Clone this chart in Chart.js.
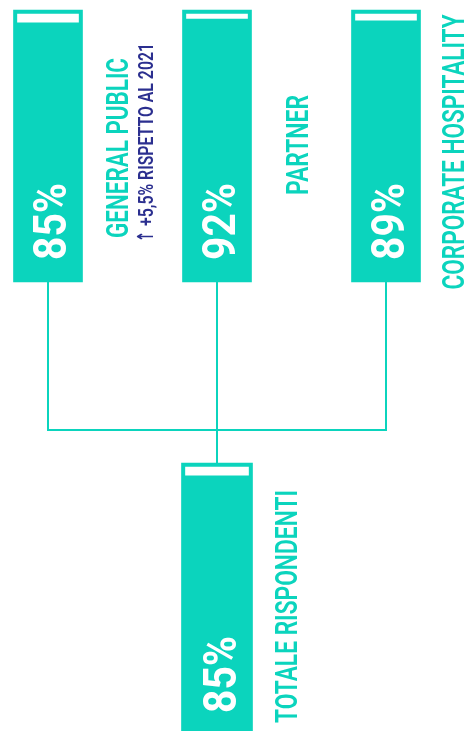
<!DOCTYPE html>
<html lang="it">
<head>
<meta charset="utf-8">
<script src="https://cdn.jsdelivr.net/npm/chart.js@4"></script>
<style>
  html, body { margin: 0; padding: 0; background: #fff; overflow: hidden; width: 467px; height: 731px; }
  #graficoSegmenti { position: absolute; left: 0; top: 0; }
  #graficoTotale { position: absolute; left: 0; top: 450px; }
</style>
</head>
<body>
<canvas id="graficoSegmenti" width="467" height="450"></canvas>
<canvas id="graficoTotale" width="467" height="285"></canvas>
<script>
// Segmenti di pubblico e percentuale di soddisfazione
const categorie = ['GENERAL PUBLIC', 'PARTNER', 'CORPORATE HOSPITALITY'];
const percentuali = [85, 92, 89];

// Totale dei rispondenti
const categoriaTotale = ['TOTALE RISPONDENTI'];
const percentualeTotale = [85];

// Nota sul General Public
const variazioneGP = '+5,5%';
const annoConfronto = 2021;

const TEAL = '#0BD4BD';
const BLU = '#2B2F8F';

// Testo ruotato di 90° (si legge dal basso verso l'alto), compresso per stare in "lunghezza" px
function testoRuotato(ctx, testo, xBase, yInizio, font, lunghezza, colore) {
  ctx.save();
  ctx.font = font;
  ctx.fillStyle = colore;
  ctx.textAlign = 'left';
  ctx.textBaseline = 'alphabetic';
  const w = ctx.measureText(testo).width;
  ctx.translate(xBase, yInizio);
  ctx.rotate(-Math.PI / 2);
  ctx.scale(lunghezza / w, 1);
  ctx.fillText(testo, 0, 0);
  ctx.restore();
}

// Due dataset sovrapposti: la striscia bianca (quota mancante) sopra il contenitore teal (100%)
function datasetsBarre(valori, spessore) {
  return [
    {
      data: valori.map(v => [98.5 - (100 - v) * 0.2, 98.5]),
      backgroundColor: '#ffffff',
      barThickness: spessore - 8,
      clip: false
    },
    {
      data: valori.map(() => [0, 100]),
      backgroundColor: TEAL,
      barThickness: spessore,
      clip: false
    }
  ];
}

function opzioniBase(padding, offsetX) {
  return {
    responsive: false,
    animation: false,
    devicePixelRatio: 1,
    layout: { padding: padding },
    datasets: { bar: { grouped: false } },
    plugins: { legend: { display: false }, tooltip: { enabled: false } },
    scales: {
      x: { type: 'category', offset: offsetX, display: false },
      y: { min: 0, max: 100, display: false }
    }
  };
}

// Grafico in alto: i tre segmenti + linee di collegamento
const pluginSegmenti = {
  id: 'etichetteSegmenti',
  afterDatasetsDraw(chart) {
    const ctx = chart.ctx;
    const barre = chart.getDatasetMeta(1).data;

    ctx.save();
    ctx.strokeStyle = TEAL;
    ctx.lineWidth = 2;
    const yNodo = 430;
    ctx.beginPath();
    ctx.moveTo(barre[0].x, barre[0].base);
    ctx.lineTo(barre[0].x, yNodo);
    ctx.lineTo(barre[2].x, yNodo);
    ctx.lineTo(barre[2].x, barre[2].base);
    ctx.moveTo(barre[1].x, barre[1].base);
    ctx.lineTo(barre[1].x, chart.height);
    ctx.stroke();
    ctx.restore();

    const lunghezze = [180, 100, 275];
    const distanze = [45, 56, 43];
    const centri = [148, 145, 152];
    barre.forEach((b, i) => {
      testoRuotato(ctx, percentuali[i] + '%', b.x + 18, b.base - 22, '700 46px Roboto', 77, '#fff');
      const inizio = centri[i] + lunghezze[i] / 2;
      testoRuotato(ctx, categorie[i], b.x + b.width / 2 + distanze[i], inizio, '600 32px Roboto', lunghezze[i], TEAL);
    });

    // nota di confronto sotto "General Public"
    const gp = barre[0];
    const xNota = gp.x + gp.width / 2 + 70.5;
    const inizioNota = 242;
    testoRuotato(ctx, '↑', xNota, inizioNota, '700 22px "DejaVu Sans"', 11, BLU);
    testoRuotato(ctx, variazioneGP + ' RISPETTO AL ' + annoConfronto,
      xNota, inizioNota - 16, '600 21px Roboto', 183, BLU);
  }
};

new Chart(document.getElementById('graficoSegmenti').getContext('2d'), {
  type: 'bar',
  data: { labels: categorie, datasets: datasetsBarre(percentuali, 69) },
  options: opzioniBase({ left: 48, right: 81, top: 10, bottom: 168 }, false),
  plugins: [pluginSegmenti]
});

// Grafico in basso: totale rispondenti
const pluginTotale = {
  id: 'etichetteTotale',
  afterDatasetsDraw(chart) {
    const ctx = chart.ctx;
    const b = chart.getDatasetMeta(1).data[0];

    ctx.save();
    ctx.strokeStyle = TEAL;
    ctx.lineWidth = 2;
    ctx.beginPath();
    ctx.moveTo(b.x, 0);
    ctx.lineTo(b.x, b.y);
    ctx.stroke();
    ctx.restore();

    testoRuotato(ctx, percentualeTotale[0] + '%', b.x + 19, b.base - 22, '700 46px Roboto', 77, '#fff');
    testoRuotato(ctx, categoriaTotale[0], b.x + b.width / 2 + 44, b.base - 12, '600 32px Roboto', 233, TEAL);
  }
};

new Chart(document.getElementById('graficoTotale').getContext('2d'), {
  type: 'bar',
  data: { labels: categoriaTotale, datasets: datasetsBarre(percentualeTotale, 71) },
  options: opzioniBase({ left: 0, right: 33, top: 13, bottom: 0 }, true),
  plugins: [pluginTotale]
});
</script>
</body>
</html>
